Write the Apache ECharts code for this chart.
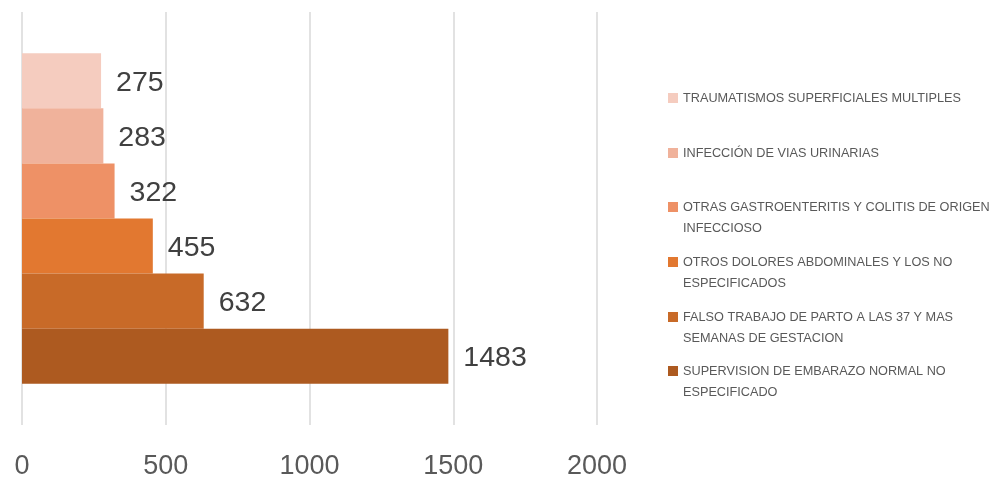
<!DOCTYPE html>
<html>
<head>
<meta charset="utf-8">
<script src="https://cdn.jsdelivr.net/npm/echarts@6/dist/echarts.min.js"></script>
<style>html,body{margin:0;padding:0;background:#fff}#c{width:992px;height:480px}</style>
</head>
<body>
<div id="c"></div>
<script>
const seriesNames = [
  "TRAUMATISMOS SUPERFICIALES MULTIPLES",
  "INFECCIÓN DE VIAS URINARIAS",
  "OTRAS GASTROENTERITIS Y COLITIS DE ORIGEN INFECCIOSO",
  "OTROS DOLORES ABDOMINALES Y LOS NO ESPECIFICADOS",
  "FALSO TRABAJO DE PARTO A LAS 37 Y MAS SEMANAS DE GESTACION",
  "SUPERVISION DE EMBARAZO NORMAL NO ESPECIFICADO"
];
const legendLines = [
  ["TRAUMATISMOS SUPERFICIALES MULTIPLES"],
  ["INFECCIÓN DE VIAS URINARIAS"],
  ["OTRAS GASTROENTERITIS Y COLITIS DE ORIGEN", "INFECCIOSO"],
  ["OTROS DOLORES ABDOMINALES Y LOS NO", "ESPECIFICADOS"],
  ["FALSO TRABAJO DE PARTO A LAS 37 Y MAS", "SEMANAS DE GESTACION"],
  ["SUPERVISION DE EMBARAZO NORMAL NO", "ESPECIFICADO"]
];
const values = [275, 283, 322, 455, 632, 1483];
const colors = ["#F5CCBF", "#F0B29B", "#EE9166", "#E27830", "#C86A28", "#AD5A20"];
const categories = [""];
const xTicks = { min: 0, max: 2000, interval: 500 };

const chart = echarts.init(document.getElementById('c'), null, { renderer: 'canvas' });
const font = "'Liberation Sans', Arial, sans-serif";
const iconCenters = [98, 153, 207, 262, 317, 371];

const series = seriesNames.map((n, i) => ({
  name: n,
  type: 'bar',
  data: [values[i]],
  itemStyle: { color: colors[i] },
  barGap: '0%',
  barCategoryGap: '20%',
  label: {
    show: true, position: 'right', distance: 15,
    fontSize: 28.5, color: '#404040', fontFamily: font, offset: [0, 2]
  }
}));

const legends = seriesNames.map((n, i) => {
  const two = legendLines[i].length > 1;
  return {
    left: 668,
    top: iconCenters[i] - (two ? 31.5 : 10.5),
    padding: 0,
    orient: 'vertical',
    icon: 'rect',
    itemWidth: 10, itemHeight: 10,
    selectedMode: false,
    data: [n],
    formatter: () => (two ? ' \n' : '') + legendLines[i].join('\n'),
    textStyle: {
      fontSize: 12.7, color: '#595959', fontFamily: font, lineHeight: 21
    }
  };
});

chart.setOption({
  animation: false,
  backgroundColor: '#fff',
  grid: { left: 22, right: 395, top: 12, bottom: 51, containLabel: false },
  legend: legends,
  xAxis: {
    type: 'value', min: xTicks.min, max: xTicks.max, interval: xTicks.interval,
    axisLine: { show: false }, axisTick: { show: false },
    splitLine: { show: true, lineStyle: { color: '#D9D9D9', width: 1.5 } },
    axisLabel: { fontSize: 27, color: '#595959', margin: 28, fontFamily: font, formatter: v => String(v) }
  },
  yAxis: {
    type: 'category', data: categories,
    axisLine: { show: false }, axisTick: { show: false }, axisLabel: { show: false },
    splitLine: { show: false }
  },
  series: series
});
</script>
</body>
</html>
